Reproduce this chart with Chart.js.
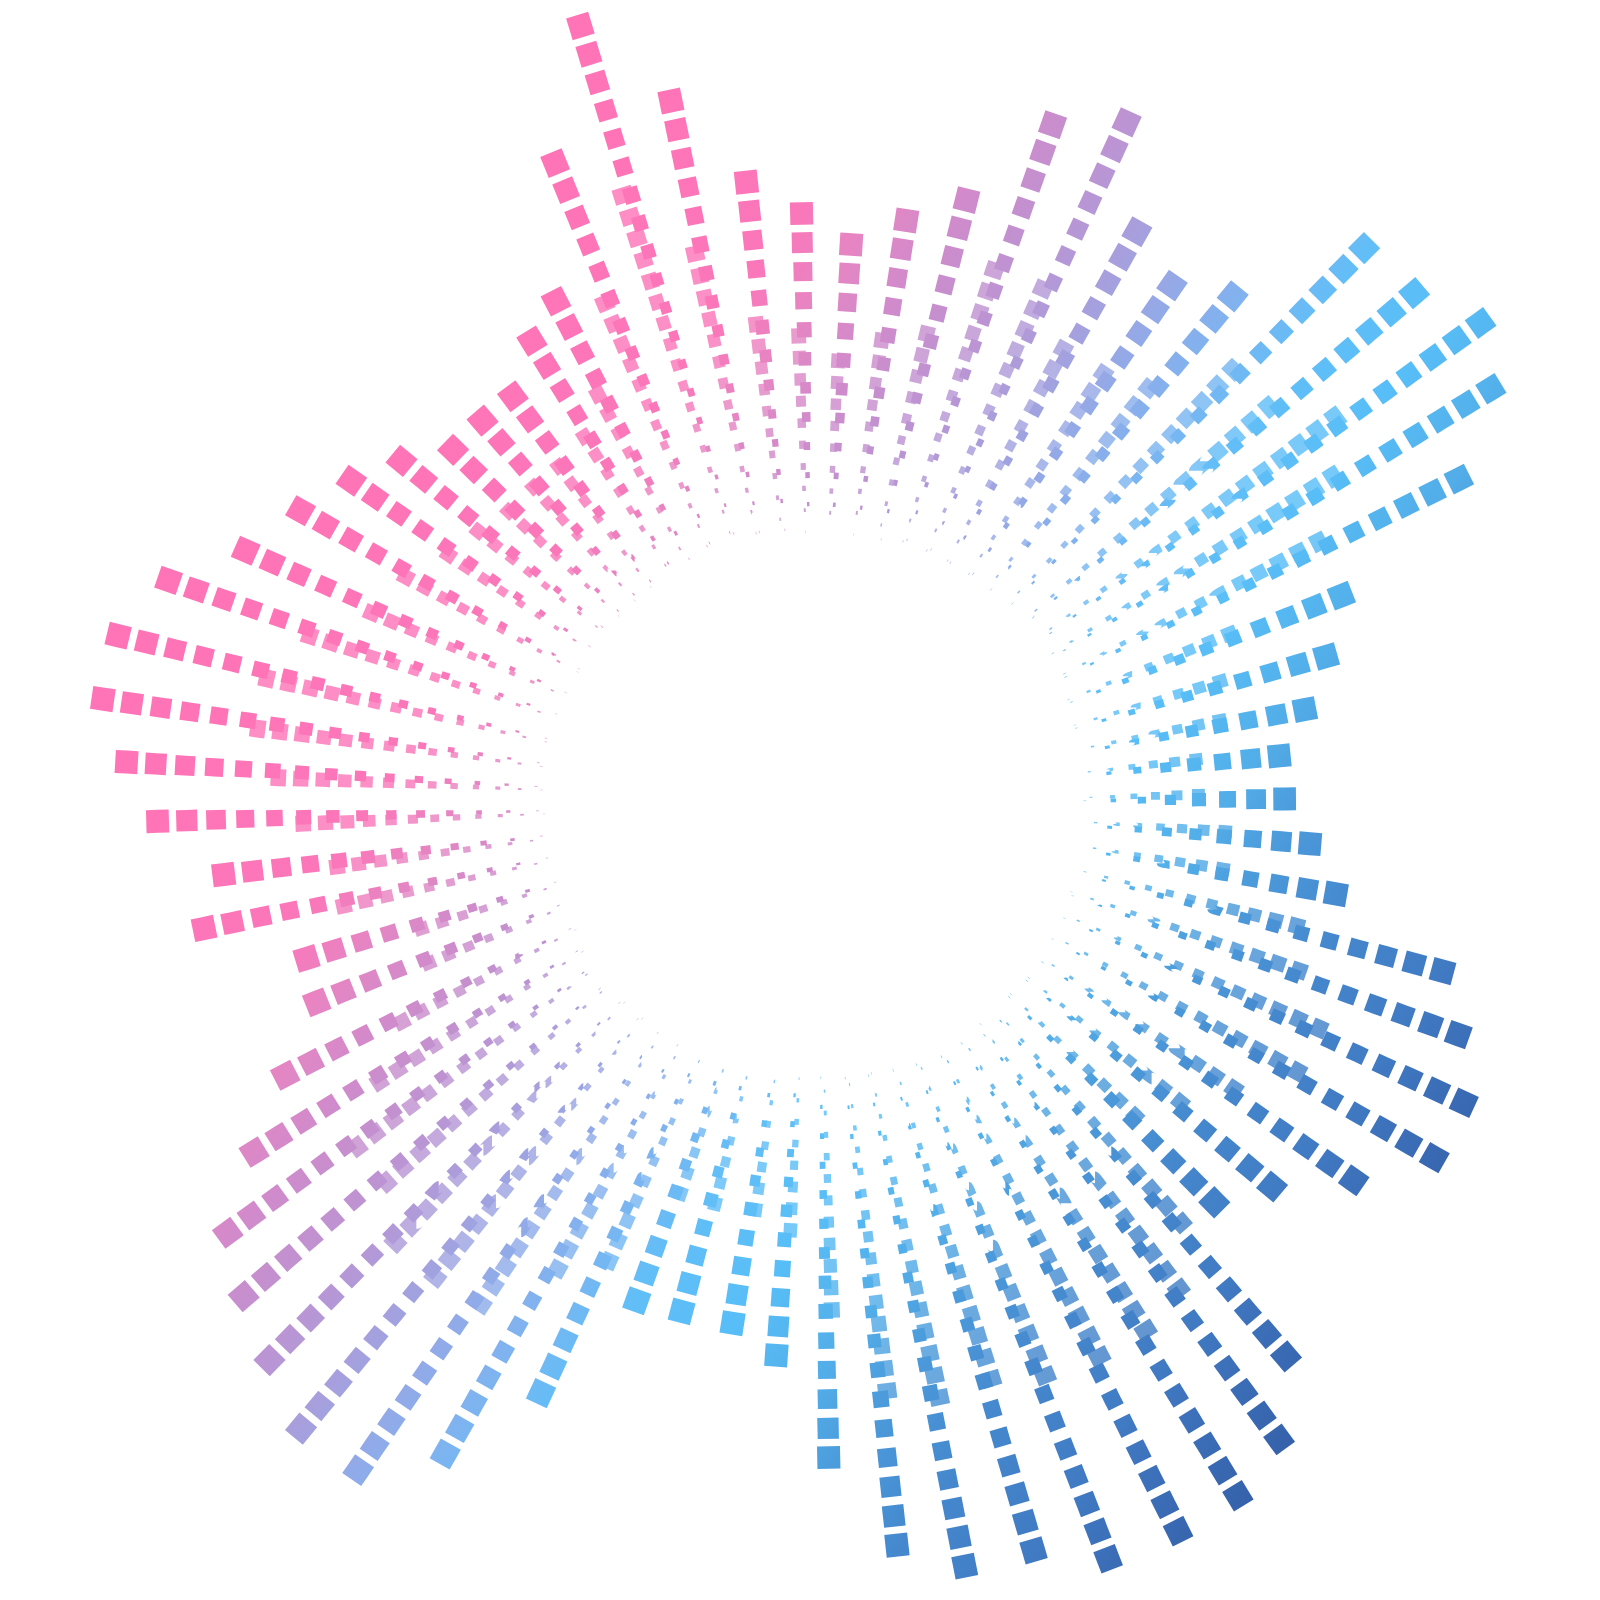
<!DOCTYPE html>
<html><head><meta charset="utf-8">
<script src="https://cdn.jsdelivr.net/npm/chart.js@4/dist/chart.umd.min.js"></script>
<style>html,body{margin:0;padding:0;background:#ffffff}#wrap{width:1600px;height:1600px}</style>
</head><body><div id="wrap"><canvas id="c" width="1600" height="1600"></canvas></div>
<script>
// ---- data ----
const rayAngles = [0.5,5.8,10.8,16.0,21.5,26.7,31.5,35.8,40.4,45.3,50.5,55.4,60.6,65.4,70.7,75.9,81.1,86.3,91.3,96.3,101.6,106.8,112.1,117.3,121.5,126.6,131.0,135.7,140.4,145.2,150.4,156.1,161.0,166.5,171.7,176.6,181.6,186.9,191.6,197.0,201.8,207.2,211.9,216.2,220.8,225.6,230.6,235.6,240.4,245.1,250.3,255.3,261.0,266.0,271.2,276.3,281.1,286.3,291.2,296.5,301.4,306.1,310.4,315.0,320.0,325.0,330.2,335.2,340.2,345.0,350.1,355.3];
const outerSeries = [481,478,510,543,577,732,804,832,798,792,668,640,667,760,730,633,601,571,601,636,728,823,702,576,553,518,518,517,548,576,603,634,695,728,731,701,669,607,635,543,548,607,672,739,766,791,821,820,760,662,540,537,538,565,666,758,789,790,822,825,823,799,738,576,608,669,725,726,695,661,540,508];
const innerSeries = [390,390,420,430,455,575,620,655,610,610,540,525,525,570,570,490,475,450,475,490,570,645,550,470,440,430,430,430,440,450,475,490,540,570,570,545,520,490,490,420,425,475,525,580,580,615,615,610,540,510,420,420,418,435,515,600,615,610,625,630,630,615,565,455,480,515,560,560,520,505,420,418];

// ---- layout / style ----
const CX = 815, CY = 803, W = 1600, H = 1600;
const R0 = 266;
const colorStops = [[0,'#FF74B7'],[0.10,'#FF74B7'],[0.225,'#FA77BA'],[0.265,'#E884C2'],[0.285,'#DD88C6'],[0.31,'#D28ACB'],[0.335,'#C88ECD'],[0.375,'#BC94D3'],[0.42,'#A99EDC'],[0.47,'#92AAE8'],[0.515,'#7DB4F0'],[0.56,'#62BEF7'],[0.63,'#58BEF7'],[0.70,'#52ADE8'],[0.74,'#4C9CDC'],[0.81,'#4588CE'],[0.89,'#407AC2'],[0.94,'#3B6CB6'],[1,'#3460A8']];

const canvas = document.getElementById('c');
const cctx = canvas.getContext('2d');
function hexA(h, a){const n=parseInt(h.slice(1),16);return `rgba(${n>>16&255},${n>>8&255},${n&255},${a})`;}
function makeGrad(alpha){
  const g = cctx.createLinearGradient(369,258,1556,1091);
  colorStops.forEach(([o,c]) => g.addColorStop(o, hexA(c, alpha)));
  return g;
}
const gradOuter = makeGrad(1);
const gradInner = makeGrad(0.82);

function buildRay(angleDeg, R, smax, period){
  const a = angleDeg*Math.PI/180, ca = Math.cos(a), sa = Math.sin(a);
  const pts = [], widths = [];
  for (let e = R; ; e -= period){
    const w = smax*(e - R0)/(R - R0);
    if (w < 0.4) break;
    const L = Math.min(0.9*w + 2, period - 7);
    pts.push({x: e*ca, y: e*sa}, {x: (e-L)*ca, y: (e-L)*sa});
    widths.push(w);
  }
  return {pts, widths};
}

function makeDataset(ray, grad, order){
  return {
    data: ray.pts, showLine: true, pointRadius: 0, pointHoverRadius: 0,
    borderWidth: 1, borderColor: grad, borderCapStyle: 'butt',
    tension: 0.00001, capBezierPoints: false, fill: false,
    order: order,
    segment: {
      borderColor: c => (c.p0DataIndex % 2 === 0) ? grad : 'rgba(0,0,0,0)',
      borderWidth: c => (c.p0DataIndex % 2 === 0) ? ray.widths[c.p0DataIndex/2] : 1
    }
  };
}

const datasets = [];
rayAngles.forEach((ang, i) => {
  datasets.push(makeDataset(buildRay(ang, outerSeries[i], 23, 30), gradOuter, 2));
});
rayAngles.forEach((ang, i) => {
  const R = innerSeries[i];
  datasets.push(makeDataset(buildRay(ang + 0.7, R, 0.031*R, 22.5), gradInner, 1));
});

new Chart(canvas, {
  type: 'scatter',
  data: { datasets },
  options: {
    responsive: false, animation: false, events: [],
    layout: { padding: 0 },
    plugins: { legend: { display: false }, tooltip: { enabled: false } },
    scales: {
      x: { type: 'linear', min: -CX, max: W - CX, display: false },
      y: { type: 'linear', min: -(H - CY), max: CY, display: false }
    }
  }
});
</script>
</body></html>
